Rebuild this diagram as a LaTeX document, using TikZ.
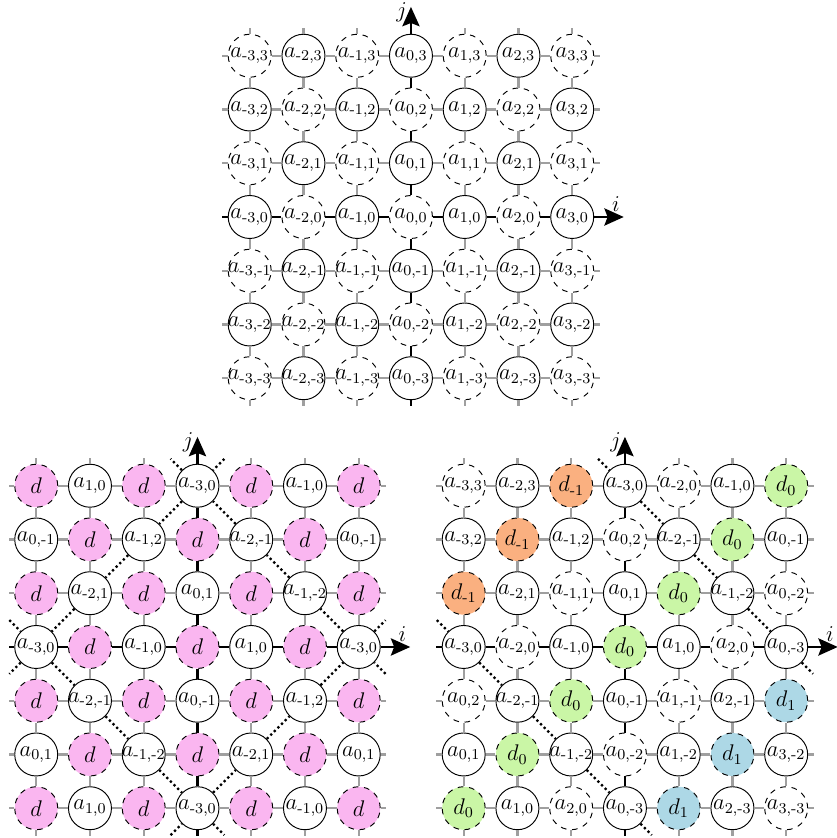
\documentclass[tikz,border=0pt]{standalone}
\usepackage{amsmath}
\usepackage{xcolor}
\usepackage{tikz}
\usetikzlibrary{arrows.meta}

\definecolor{dpinkc}{RGB}{250,182,240}
\definecolor{dnegc}{RGB}{250,176,128}
\definecolor{dzeroc}{RGB}{202,246,166}
\definecolor{dposc}{RGB}{173,216,230}

% short hyphen for negative indices
\newcommand{\subix}[1]{\ifnum#1<0 \text{-}\the\numexpr-#1\relax\else#1\fi}
\newcommand{\aij}[2]{\makebox[0pt]{$a_{\subix{#1},\subix{#2}}$}}
\newcommand{\dk}[1]{\makebox[0pt]{$d_{\subix{#1}}$}}

\begin{document}
\begin{tikzpicture}[
  site/.style={draw, circle, line width=0.5pt, fill=white, minimum size=0.8cm, inner sep=0pt, font=\large},
  ghost/.style={site, dashed},
  dpink/.style={ghost, fill=dpinkc},
  dneg/.style={ghost, fill=dnegc},
  dzero/.style={ghost, fill=dzeroc},
  dpos/.style={ghost, fill=dposc},
  gridline/.style={gray!75, line width=1.2pt},
  axisline/.style={black, line width=1.3pt},
  axisarrow/.style={axisline, -{Stealth[length=3.6mm, width=3.2mm, inset=0.6mm]}},
  cut/.style={black, line width=1.2pt, dash pattern=on 1.2pt off 1.5pt},
  axlabel/.style={font=\large, inner sep=1.5pt},
]
  \useasboundingbox (-3.674,-3.554) rectangle (11.898,12.037);

  % Original lattice
  \begin{scope}[shift={(3.972,8)}]
    \foreach \x in {-3,...,3}
      \foreach \y in {-3,...,3}{
        \pgfmathtruncatemacro\pty{mod(\x+\y+6,2)}
        \ifnum\pty=0 \def\kind{ghost}\else\def\kind{site}\fi
        \node[\kind] (t\x_\y) at (\x,\y) {\aij{\x}{\y}};
      }
  \end{scope}

  % Folded lattice with one d per plaquette
  \begin{scope}
    \foreach \y/\cells in {
      3/{dpink/$d$, site/\aij{1}{0}, dpink/$d$, site/\aij{-3}{0}, dpink/$d$, site/\aij{-1}{0}, dpink/$d$},
      2/{site/\aij{0}{-1}, dpink/$d$, site/\aij{-1}{2}, dpink/$d$, site/\aij{-2}{-1}, dpink/$d$, site/\aij{0}{-1}},
      1/{dpink/$d$, site/\aij{-2}{1}, dpink/$d$, site/\aij{0}{1}, dpink/$d$, site/\aij{-1}{-2}, dpink/$d$},
      0/{site/\aij{-3}{0}, dpink/$d$, site/\aij{-1}{0}, dpink/$d$, site/\aij{1}{0}, dpink/$d$, site/\aij{-3}{0}},
      -1/{dpink/$d$, site/\aij{-2}{-1}, dpink/$d$, site/\aij{0}{-1}, dpink/$d$, site/\aij{-1}{2}, dpink/$d$},
      -2/{site/\aij{0}{1}, dpink/$d$, site/\aij{-1}{-2}, dpink/$d$, site/\aij{-2}{1}, dpink/$d$, site/\aij{0}{1}},
      -3/{dpink/$d$, site/\aij{1}{0}, dpink/$d$, site/\aij{-3}{0}, dpink/$d$, site/\aij{-1}{0}, dpink/$d$}}
      \foreach \kind/\lab [count=\x from -3] in \cells
        \node[\kind] (bl\x_\y) at (\x,\y) {\lab};
    \coordinate (blNW) at (-0.5,3.5);  \coordinate (blNE) at (0.5,3.5);
    \coordinate (blWN) at (-3.5,0.5);  \coordinate (blWS) at (-3.5,-0.5);
    \coordinate (blSW) at (-0.5,-3.5); \coordinate (blSE) at (0.5,-3.5);
    \coordinate (blEN) at (3.5,0.5);   \coordinate (blES) at (3.5,-0.5);
  \end{scope}

  % Sheared lattice with d_k along the diagonals
  \begin{scope}[shift={(7.953,0)}]
    \foreach \y/\cells in {
      3/{ghost/\aij{-3}{3}, site/\aij{-2}{3}, dneg/\dk{-1}, site/\aij{-3}{0}, ghost/\aij{-2}{0}, site/\aij{-1}{0}, dzero/\dk{0}},
      2/{site/\aij{-3}{2}, dneg/\dk{-1}, site/\aij{-1}{2}, ghost/\aij{0}{2}, site/\aij{-2}{-1}, dzero/\dk{0}, site/\aij{0}{-1}},
      1/{dneg/\dk{-1}, site/\aij{-2}{1}, ghost/\aij{-1}{1}, site/\aij{0}{1}, dzero/\dk{0}, site/\aij{-1}{-2}, ghost/\aij{0}{-2}},
      0/{site/\aij{-3}{0}, ghost/\aij{-2}{0}, site/\aij{-1}{0}, dzero/\dk{0}, site/\aij{1}{0}, ghost/\aij{2}{0}, site/\aij{0}{-3}},
      -1/{ghost/\aij{0}{2}, site/\aij{-2}{-1}, dzero/\dk{0}, site/\aij{0}{-1}, ghost/\aij{1}{-1}, site/\aij{2}{-1}, dpos/\dk{1}},
      -2/{site/\aij{0}{1}, dzero/\dk{0}, site/\aij{-1}{-2}, ghost/\aij{0}{-2}, site/\aij{1}{-2}, dpos/\dk{1}, site/\aij{3}{-2}},
      -3/{dzero/\dk{0}, site/\aij{1}{0}, ghost/\aij{2}{0}, site/\aij{0}{-3}, dpos/\dk{1}, site/\aij{2}{-3}, ghost/\aij{3}{-3}}}
      \foreach \kind/\lab [count=\x from -3] in \cells
        \node[\kind] (br\x_\y) at (\x,\y) {\lab};
    \coordinate (brNW) at (-0.5,3.5);  \coordinate (brES) at (3.5,-0.5);
    \coordinate (brWN) at (-3.5,0.5);  \coordinate (brSE) at (0.5,-3.5);
  \end{scope}

  % Bonds, stubs and axes
  \foreach \g in {t,bl,br}{
    \foreach \k in {-3,...,3}{
      \foreach \m [evaluate=\m as \q using int(\m+1)] in {-3,...,2}{
        \ifnum\k=0 \def\bond{axisline}\else\def\bond{gridline}\fi
        \draw[\bond] (\g\k_\m) -- (\g\k_\q);
        \draw[\bond] (\g\m_\k) -- (\g\q_\k);
      }
      \draw[gridline] (\g\k_3.north) -- ++(0,0.1);
      \draw[gridline] (\g3_\k.east) -- ++(0.1,0);
      \ifnum\k=0 \def\bond{axisline}\else\def\bond{gridline}\fi
      \draw[\bond] (\g\k_-3.south) -- ++(0,-0.1);
      \draw[\bond] (\g-3_\k.west) -- ++(-0.1,0);
    }
    \draw[axisarrow] (\g3_0.east) -- ++(0.55,0) node[axlabel, above left, yshift=1pt] (\g-i) {$i$};
    \draw[axisarrow] (\g0_3.north) -- ++(0,0.5) node[axlabel, left, yshift=-3pt] (\g-j) {$j$};
  }

  % Cuts
  \draw[cut] (blNE) -- (bl0_3) -- (bl-1_2) -- (bl-2_1) -- (bl-3_0) -- (blWS);
  \draw[cut] (blWN) -- (bl-3_0) -- (bl-2_-1) -- (bl-1_-2) -- (bl0_-3) -- (blSE);
  \draw[cut] (blSW) -- (bl0_-3) -- (bl1_-2) -- (bl2_-1) -- (bl3_0) -- (blEN);
  \draw[cut] (blES) -- (bl3_0) -- (bl2_1) -- (bl1_2) -- (bl0_3) -- (blNW);
  \draw[cut] (brNW) -- (br0_3) -- (br1_2) -- (br2_1) -- (br3_0) -- (brES);
  \draw[cut] (brWN) -- (br-3_0) -- (br-2_-1) -- (br-1_-2) -- (br0_-3) -- (brSE);

\end{tikzpicture}
\end{document}
